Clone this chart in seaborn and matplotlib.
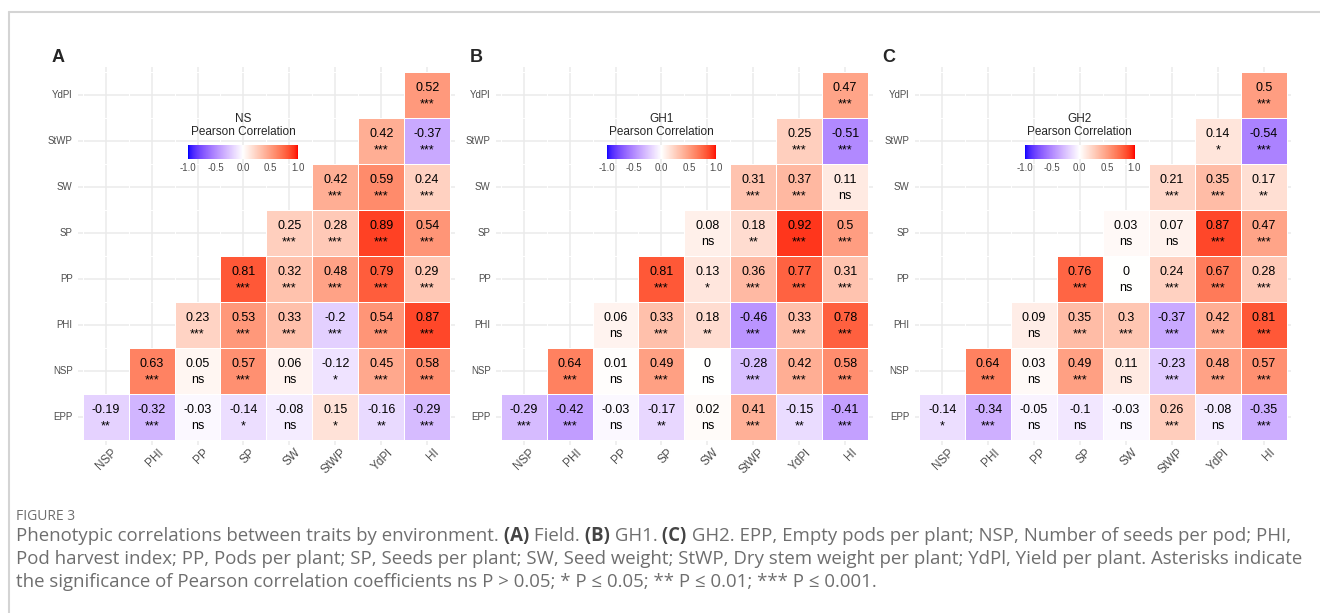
import numpy as np
import pandas as pd
import matplotlib
matplotlib.use("Agg")
import matplotlib.pyplot as plt
from matplotlib.colors import ListedColormap
from matplotlib.lines import Line2D
from matplotlib.transforms import ScaledTranslation
import seaborn as sns

# ---------------- data ----------------
row_traits = ["EPP", "NSP", "PHI", "PP", "SP", "SW", "StWP", "YdPl"]
col_traits = ["NSP", "PHI", "PP", "SP", "SW", "StWP", "YdPl", "HI"]

r_field = [
    [-0.19, -0.32, -0.03, -0.14, -0.08, 0.15, -0.16, -0.29],
    [0.63, 0.05, 0.57, 0.06, -0.12, 0.45, 0.58],
    [0.23, 0.53, 0.33, -0.2, 0.54, 0.87],
    [0.81, 0.32, 0.48, 0.79, 0.29],
    [0.25, 0.28, 0.89, 0.54],
    [0.42, 0.59, 0.24],
    [0.42, -0.37],
    [0.52],
]
sig_field = [
    ["**", "***", "ns", "*", "ns", "*", "**", "***"],
    ["***", "ns", "***", "ns", "*", "***", "***"],
    ["***", "***", "***", "***", "***", "***"],
    ["***", "***", "***", "***", "***"],
    ["***", "***", "***", "***"],
    ["***", "***", "***"],
    ["***", "***"],
    ["***"],
]

r_gh1 = [
    [-0.29, -0.42, -0.03, -0.17, 0.02, 0.41, -0.15, -0.41],
    [0.64, 0.01, 0.49, 0, -0.28, 0.42, 0.58],
    [0.06, 0.33, 0.18, -0.46, 0.33, 0.78],
    [0.81, 0.13, 0.36, 0.77, 0.31],
    [0.08, 0.18, 0.92, 0.5],
    [0.31, 0.37, 0.11],
    [0.25, -0.51],
    [0.47],
]
sig_gh1 = [
    ["***", "***", "ns", "**", "ns", "***", "**", "***"],
    ["***", "ns", "***", "ns", "***", "***", "***"],
    ["ns", "***", "**", "***", "***", "***"],
    ["***", "*", "***", "***", "***"],
    ["ns", "**", "***", "***"],
    ["***", "***", "ns"],
    ["***", "***"],
    ["***"],
]

r_gh2 = [
    [-0.14, -0.34, -0.05, -0.1, -0.03, 0.26, -0.08, -0.35],
    [0.64, 0.03, 0.49, 0.11, -0.23, 0.48, 0.57],
    [0.09, 0.35, 0.3, -0.37, 0.42, 0.81],
    [0.76, 0, 0.24, 0.67, 0.28],
    [0.03, 0.07, 0.87, 0.47],
    [0.21, 0.35, 0.17],
    [0.14, -0.54],
    [0.5],
]
sig_gh2 = [
    ["*", "***", "ns", "ns", "ns", "***", "ns", "***"],
    ["***", "ns", "***", "ns", "***", "***", "***"],
    ["ns", "***", "***", "***", "***", "***"],
    ["***", "ns", "***", "***", "***"],
    ["ns", "ns", "***", "***"],
    ["***", "***", "**"],
    ["*", "***"],
    ["***"],
]

panel_letters = ["A", "B", "C"]
panel_titles = ["NS", "GH1", "GH2"]
legend_ticks = [-1.0, -0.5, 0.0, 0.5, 1.0]
legend_ticklabels = ["-1.0", "-0.5", "0.0", "0.5", "1.0"]

caption_head = "FIGURE 3"
caption_lines = [
    [("Phenotypic correlations between traits by environment.", False), (" (A)", True),
     (" Field.", False), (" (B)", True), (" GH1.", False), (" (C)", True),
     (" GH2. EPP, Empty pods per plant; NSP, Number of seeds per pod; PHI,", False)],
    [("Pod harvest index; PP, Pods per plant; SP, Seeds per plant; SW, Seed weight; StWP, "
      "Dry stem weight per plant; YdPl, Yield per plant. Asterisks indicate", False)],
    [("the significance of Pearson correlation coefficients ns P > 0.05; * P \u2264 0.05; "
      "** P \u2264 0.01; *** P \u2264 0.001.", False)],
]

# ---------------- colour map (ggplot gradient2: blue-white-red in CIELAB) ----------------
def srgb_to_lab(rgb):
    c = np.asarray(rgb, float)
    lin = np.where(c <= 0.04045, c / 12.92, ((c + 0.055) / 1.055) ** 2.4)
    M = np.array([[0.4124564, 0.3575761, 0.1804375],
                  [0.2126729, 0.7151522, 0.0721750],
                  [0.0193339, 0.1191920, 0.9503041]])
    xyz = M @ lin
    wp = np.array([0.95047, 1.0, 1.08883])
    t = xyz / wp
    f = np.where(t > (6 / 29) ** 3, np.cbrt(t), t / (3 * (6 / 29) ** 2) + 4 / 29)
    return np.array([116 * f[1] - 16, 500 * (f[0] - f[1]), 200 * (f[1] - f[2])])


def lab_to_srgb(lab):
    L, a, b = lab
    fy_ = (L + 16) / 116
    fx_ = fy_ + a / 500
    fz_ = fy_ - b / 200
    f = np.array([fx_, fy_, fz_])
    t = np.where(f > 6 / 29, f ** 3, 3 * (6 / 29) ** 2 * (f - 4 / 29))
    xyz = t * np.array([0.95047, 1.0, 1.08883])
    Minv = np.array([[3.2404542, -1.5371385, -0.4985314],
                     [-0.9692660, 1.8760108, 0.0415560],
                     [0.0556434, -0.2040259, 1.0572252]])
    lin = np.clip(Minv @ xyz, 0, 1)
    c = np.where(lin <= 0.0031308, 12.92 * lin, 1.055 * lin ** (1 / 2.4) - 0.055)
    return np.clip(c, 0, 1)


lab_blue = srgb_to_lab([0, 0, 1])
lab_white = srgb_to_lab([1, 1, 1])
lab_red = srgb_to_lab([1, 0, 0])
cols = []
for v in np.linspace(-1, 1, 512):
    if v < 0:
        lab = lab_white + (-v) * (lab_blue - lab_white)
    else:
        lab = lab_white + v * (lab_red - lab_white)
    cols.append(lab_to_srgb(lab))
cmap = ListedColormap(cols)

# ---------------- figure ----------------
sns.set_style("white")
plt.rcParams["font.family"] = ["Liberation Sans", "DejaVu Sans"]

W, H = 1320, 613
fig = plt.figure(figsize=(W / 100, H / 100), dpi=100)


def fx(px):
    return px / W


def fy(py):
    return 1 - py / H


def to_frame(rows, fill):
    M = np.full((8, 8), fill, dtype=object)
    for i, row in enumerate(rows):
        for k, v in enumerate(row):
            M[i, i + k] = v
    return pd.DataFrame(M, index=row_traits, columns=col_traits)


# panel pixel geometry (axes box incl. ggplot expansion)
ax_left_px = [78.1, 496.1, 914.7]
ax_w_px = 376.6
ax_top_px, ax_bot_px = 67.1, 444.6
bar_left_px = [188.3, 606.7, 1025.0]
bar_w_px, bar_top_px, bar_h_px = 109.5, 144.5, 14.0
letter_x_px = [52, 470, 882]

tick_grey = "#4d4d4d"
datasets = [(r_field, sig_field), (r_gh1, sig_gh1), (r_gh2, sig_gh2)]

for p, (rr, ss) in enumerate(datasets):
    ax = fig.add_axes([fx(ax_left_px[p]), fy(ax_bot_px), ax_w_px / W, (ax_bot_px - ax_top_px) / H])
    cax = fig.add_axes([fx(bar_left_px[p]), fy(bar_top_px + bar_h_px), bar_w_px / W, bar_h_px / H])
    df = to_frame(rr, np.nan).astype(float).iloc[::-1]
    sg = to_frame(ss, "").iloc[::-1]
    sns.heatmap(df, ax=ax, cmap=cmap, vmin=-1, vmax=1, mask=df.isna(),
                linewidths=0.6, linecolor="white", cbar=True, cbar_ax=cax,
                cbar_kws=dict(orientation="horizontal", ticks=legend_ticks))
    # annotations
    for i in range(df.shape[0]):
        for j in range(df.shape[1]):
            v = df.iat[i, j]
            if np.isnan(v):
                continue
            ax.text(j + 0.5, i + 0.5 - 0.09, f"{v:g}", ha="center", va="baseline",
                    fontsize=9, color="black")
            ax.text(j + 0.5, i + 0.5 + 0.27, sg.iat[i, j], ha="center", va="baseline",
                    fontsize=9, color="black")
    ax.set_xlim(-0.1, 8.1)
    ax.set_ylim(8.1, -0.1)
    ax.grid(True, color="#ebebeb", lw=1.1)
    ax.set_axisbelow(True)
    for s in ax.spines.values():
        s.set_visible(False)
    ax.set_xlabel("")
    ax.set_ylabel("")
    ax.tick_params(axis="both", length=0, labelcolor=tick_grey)
    ax.tick_params(axis="y", pad=4, labelsize=7)
    ax.tick_params(axis="x", pad=1.5, labelsize=8.5)
    plt.setp(ax.get_yticklabels(), rotation=0)
    offset = ScaledTranslation(5.5 / 100, 0, fig.dpi_scale_trans)
    for lab in ax.get_xticklabels():
        lab.set_rotation(45)
        lab.set_ha("right")
        lab.set_va("top")
        lab.set_rotation_mode("anchor")
        lab.set_transform(lab.get_transform() + offset)
    # colourbar legend
    cbar = ax.collections[0].colorbar
    cbar.outline.set_visible(False)
    cax.set_xticks(legend_ticks)
    cax.set_xticklabels(legend_ticklabels)
    cax.tick_params(length=0, labelsize=7, labelcolor=tick_grey, pad=3)
    bx = bar_left_px[p] + bar_w_px / 2
    fig.text(fx(bx), fy(119), panel_titles[p], ha="center", va="center", fontsize=8.5)
    fig.text(fx(bx), fy(132.3), "Pearson Correlation", ha="center", va="center", fontsize=8.5)
    # panel letter
    fig.text(fx(letter_x_px[p]), fy(62), panel_letters[p], ha="left", va="baseline",
             fontsize=13, fontweight="bold")

# frame lines
fig.add_artist(Line2D([fx(9), 1], [fy(12), fy(12)], color="#d4d4d4", lw=1.5))
fig.add_artist(Line2D([fx(9), fx(9)], [fy(12), 0], color="#d4d4d4", lw=1.5))

# caption
cap_family = ["Open Sans", "DejaVu Sans"]
cap_color = "#6e6e6e"
renderer = fig.canvas.get_renderer()
targets = [1286, 1284]
sizes = []
for segs, target in zip(caption_lines[:2], targets):
    probe = fig.text(0, 0, "".join(t for t, _ in segs), fontsize=11, family=cap_family)
    w0 = probe.get_window_extent(renderer).width
    probe.remove()
    sizes.append(11 * target / w0)
cap_size = min(sizes)

fig.text(fx(16), fy(520), caption_head, fontsize=cap_size * 0.75, family=cap_family,
         color="#6e6e6e", va="baseline")
line_y = [541, 564, 587]
for ly, segs in zip(line_y, caption_lines):
    x = 16
    for text, bold in segs:
        t = fig.text(fx(x), fy(ly), text, fontsize=cap_size, family=cap_family,
                     fontweight="bold" if bold else "normal",
                     color="#444444" if bold else cap_color, va="baseline")
        x += t.get_window_extent(renderer).width

fig.savefig("out.png", dpi=100)
